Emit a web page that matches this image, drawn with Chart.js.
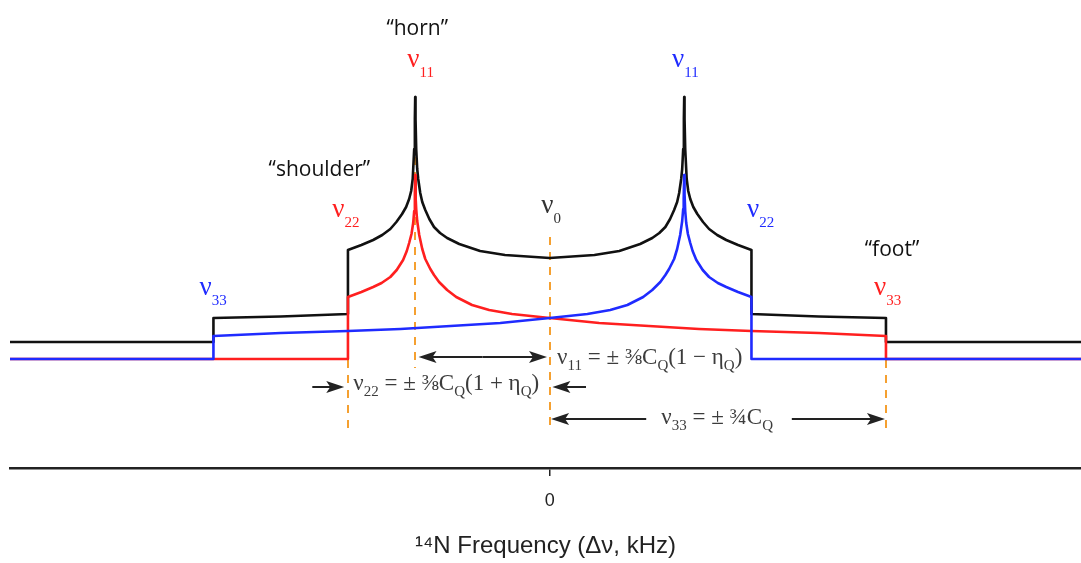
<!DOCTYPE html>
<html>
<head>
<meta charset="utf-8">
<script src="https://cdn.jsdelivr.net/npm/chart.js@4.4.1/dist/chart.umd.min.js"></script>
<style>
html, body { margin: 0; padding: 0; background: #fff; }
canvas { display: block; }
</style>
</head>
<body>
<canvas id="myChart" width="1081" height="563"></canvas>
<script>
// frequency in units of nu33 (= 3/4 CQ), etaQ about 0.2
var xTicks = [0];
var xMin = -1.605, xMax = 1.58;

// red: one transition, horn at -nu11, shoulder at -nu22, foot at +nu33
var redX = [-1.605, -0.6, -0.6, -0.56, -0.525, -0.5, -0.474, -0.455, -0.436, -0.425, -0.418, -0.411, -0.406, -0.403, -0.401, -0.4,
            -0.3985, -0.397, -0.394, -0.388, -0.379, -0.37, -0.355, -0.344, -0.329, -0.305, -0.278, -0.231, -0.18, -0.112, 0,
            0.147, 0.295, 0.444, 0.6, 0.8, 1.0, 1.0, 1.58];
var redY = [0, 0, 62, 67, 72, 76, 82, 89, 99, 108, 116, 125, 136, 148, 165, 184,
            160, 150, 138, 124, 110, 100, 90, 84, 77, 69, 62, 54, 49, 45, 41,
            36, 33, 30, 28, 26, 23, 0, 0];

// blue: the other transition (mirror image)
var blueX = [-1.605, -1.0, -1.0, -0.8, -0.6, -0.444, -0.295, -0.147,
             0, 0.112, 0.18, 0.231, 0.278, 0.305, 0.329, 0.344, 0.355, 0.37, 0.379, 0.388, 0.394, 0.397, 0.3985,
             0.4, 0.401, 0.403, 0.406, 0.411, 0.418, 0.425, 0.436, 0.455, 0.474, 0.5, 0.525, 0.56, 0.6, 0.6, 1.58];
var blueY = [0, 0, 23, 26, 28, 30, 33, 36,
             41, 45, 49, 54, 62, 69, 77, 84, 90, 100, 110, 124, 138, 150, 160,
             184, 165, 148, 136, 125, 116, 108, 99, 89, 82, 76, 72, 67, 62, 0, 0];

// black: total powder pattern (offset up)
var blackX = [-1.605, -1.0, -1.0, -0.8, -0.6, -0.6, -0.56, -0.525, -0.498, -0.474, -0.456, -0.439, -0.427, -0.418, -0.412, -0.4074, -0.403, -0.401, -0.4,
              -0.399, -0.397, -0.394, -0.391, -0.385, -0.379, -0.37, -0.358, -0.344, -0.326, -0.305, -0.269, -0.207, -0.133, 0,
              0.133, 0.207, 0.269, 0.305, 0.326, 0.344, 0.358, 0.37, 0.379, 0.385, 0.391, 0.394, 0.397, 0.399,
              0.4, 0.401, 0.403, 0.4074, 0.412, 0.418, 0.427, 0.439, 0.456, 0.474, 0.498, 0.525, 0.56, 0.6, 0.6, 0.8, 1.0, 1.0, 1.58];
var blackY = [17, 17, 41, 42.5, 45, 109, 114, 119, 124, 130, 137, 145, 152, 160, 168, 180, 210, 240, 262,
              240, 210, 190, 180, 166, 157, 149, 140, 132, 126, 121, 115, 108, 104, 101,
              104, 108, 115, 121, 126, 132, 140, 149, 157, 166, 180, 190, 210, 240,
              262, 240, 210, 180, 168, 160, 152, 145, 137, 130, 124, 119, 114, 109, 45, 42.5, 41, 17, 17];

var RED = '#ff1f1f', BLUE = '#1f2bff', BLACK = '#111111', ORANGE = '#f5a030';
var SERIF = "'Liberation Serif', 'DejaVu Serif', serif";
var SANS = "'Open Sans', 'Noto Sans', sans-serif";
var NARROW = "'Liberation Sans Narrow', 'Liberation Sans', Arial, sans-serif";

function pts(xs, ys) {
    return xs.map(function(v, i) { return {x: v, y: ys[i]}; });
}

function nu(sub, color) {
    return [
        {t: 'ν', size: 27, color: color},
        {t: sub, size: 15, dy: 10, color: color}
    ];
}

function drawRich(ctx, parts, x, y) {
    var cx = x;
    parts.forEach(function(p) {
        ctx.font = p.size + 'px ' + (p.family || SERIF);
        ctx.fillStyle = p.color || '#333';
        ctx.fillText(p.t, cx, y + (p.dy || 0));
        cx += ctx.measureText(p.t).width;
    });
}

function arrow(ctx, x1, x2, y) {
    var dir = x2 > x1 ? 1 : -1;
    ctx.beginPath();
    ctx.moveTo(x1, y);
    ctx.lineTo(x2 - dir * 10, y);
    ctx.stroke();
    ctx.beginPath();
    ctx.moveTo(x2, y);
    ctx.lineTo(x2 - dir * 18, y - 6);
    ctx.lineTo(x2 - dir * 14, y);
    ctx.lineTo(x2 - dir * 18, y + 6);
    ctx.closePath();
    ctx.fill();
}

function formula(sub, mid, tail) {
    var c = '#3c3c3c';
    var out = [
        {t: 'ν', size: 23, color: c},
        {t: sub, size: 15, dy: 6, color: c},
        {t: ' = ± ' + mid + 'C', size: 23, color: c},
        {t: 'Q', size: 15, dy: 6, color: c}
    ];
    if (tail) {
        out.push({t: '(1 ' + tail + ' η', size: 23, color: c});
        out.push({t: 'Q', size: 15, dy: 6, color: c});
        out.push({t: ')', size: 23, color: c});
    }
    return out;
}

var annot = {
    id: 'annot',
    beforeDatasetsDraw: function(chart) {
        var ctx = chart.ctx, xs = chart.scales.x, ys = chart.scales.y;
        var guides = [[-0.6, -1, -71], [-0.4, 262, -9], [0, 122, -71], [1.0, -1, -71]];
        ctx.save();
        ctx.strokeStyle = ORANGE;
        ctx.lineWidth = 2;
        ctx.setLineDash([8, 7]);
        guides.forEach(function(g) {
            var px = Math.round(xs.getPixelForValue(g[0]));
            ctx.beginPath();
            ctx.moveTo(px, ys.getPixelForValue(g[1]));
            ctx.lineTo(px, ys.getPixelForValue(g[2]));
            ctx.stroke();
        });
        ctx.restore();
    },
    afterDatasetsDraw: function(chart) {
        var ctx = chart.ctx, xs = chart.scales.x, ys = chart.scales.y;
        function X(v) { return xs.getPixelForValue(v); }
        function Y(v) { return ys.getPixelForValue(v); }
        ctx.save();
        ctx.textBaseline = 'alphabetic';

        // sans labels
        ctx.fillStyle = BLACK;
        ctx.font = '21px ' + SANS;
        ctx.textAlign = 'center';
        ctx.fillText('“horn”', X(-0.394), Y(324));
        ctx.fillText('“shoulder”', X(-0.685), Y(183));
        ctx.fillText('“foot”', X(1.018), Y(103));

        // nu labels
        ctx.textAlign = 'left';
        drawRich(ctx, nu('11', RED), X(-0.4235), Y(292));
        drawRich(ctx, nu('11', BLUE), X(0.364), Y(292));
        drawRich(ctx, nu('22', RED), X(-0.6464), Y(142));
        drawRich(ctx, nu('0', '#333'), X(-0.0253), Y(146));
        drawRich(ctx, nu('22', BLUE), X(0.587), Y(142));
        drawRich(ctx, nu('33', BLUE), X(-1.0416), Y(64));
        drawRich(ctx, nu('33', RED), X(0.9643), Y(64));

        // formulas
        drawRich(ctx, formula('11', '⅜', '−'), X(0.022), Y(-5));
        drawRich(ctx, formula('22', '⅜', '+'), X(-0.584), Y(-31));
        drawRich(ctx, formula('33', '¾'), X(0.332), Y(-65));

        // arrows
        ctx.strokeStyle = '#222';
        ctx.fillStyle = '#222';
        ctx.lineWidth = 2;
        var ya = Y(2);
        arrow(ctx, X(-0.2), X(-0.39), ya);
        arrow(ctx, X(-0.2), X(-0.008), ya);
        arrow(ctx, X(-0.706), X(-0.611), Y(-28));
        arrow(ctx, X(0.108), X(0.008), Y(-28));
        arrow(ctx, X(0.287), X(0.004), Y(-60));
        arrow(ctx, X(0.72), X(0.997), Y(-60));
        ctx.restore();
    }
};

window.addEventListener('load', function() {
    var ctx = document.getElementById('myChart').getContext('2d');
    var lineStyle = {pointRadius: 0, borderWidth: 2.6, tension: 0, fill: false, borderJoinStyle: 'round'};
    var chart = new Chart(ctx, {
        type: 'line',
        data: {
            datasets: [
                Object.assign({label: 'blue', data: pts(blueX, blueY), borderColor: BLUE}, lineStyle),
                Object.assign({label: 'red', data: pts(redX, redY), borderColor: RED}, lineStyle),
                Object.assign({label: 'total', data: pts(blackX, blackY), borderColor: BLACK}, lineStyle)
            ]
        },
        options: {
            responsive: false,
            animation: false,
            devicePixelRatio: 1,
            layout: {padding: {left: 10, right: 0, top: 0, bottom: 0}},
            plugins: {legend: {display: false}, tooltip: {enabled: false}},
            scales: {
                x: {
                    type: 'linear',
                    min: xMin,
                    max: xMax,
                    afterBuildTicks: function(axis) { axis.ticks = xTicks.map(function(v) { return {value: v}; }); },
                    afterFit: function(axis) { axis.height = 95; },
                    border: {display: true, color: '#222', width: 2.5},
                    grid: {drawOnChartArea: false, drawTicks: true, tickLength: 8, color: '#222', lineWidth: 1.5},
                    ticks: {padding: 14, color: '#222', font: {family: NARROW, size: 18}},
                    title: {display: true, text: '¹⁴N Frequency (Δν, kHz)', color: '#222', font: {family: NARROW, size: 24}, padding: {top: 0, bottom: 2}}
                },
                y: {type: 'linear', display: false, min: -109, max: 359}
            }
        },
        plugins: [annot]
    });
});
</script>
</body>
</html>
